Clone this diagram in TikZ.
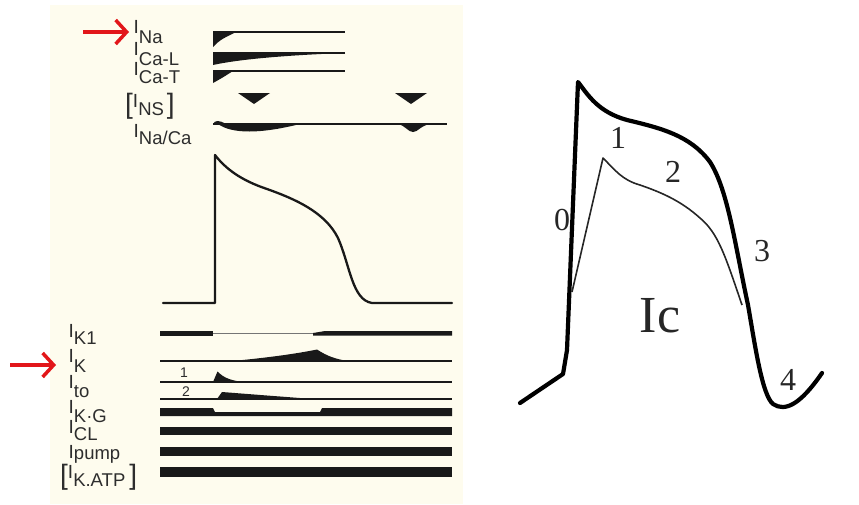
\documentclass[tikz,border=0pt]{standalone}
\usepackage{fontspec}
\setmainfont{Liberation Sans}
\newfontfamily\serifr{Liberation Serif}
\usetikzlibrary{arrows.meta}
\definecolor{cream}{RGB}{254,252,238}
\definecolor{labc}{RGB}{45,45,45}
\definecolor{trc}{RGB}{25,25,25}
\definecolor{arrred}{RGB}{226,22,26}
\newcommand\ionlab[2]{\fontsize{19}{19}\selectfont I\raisebox{-#1pt}{\fontsize{18.5}{18.5}\selectfont #2}}
\newcommand\bigbrk[1]{\raisebox{-6pt}{\fontsize{28}{28}\selectfont #1}}
\begin{document}
\begin{tikzpicture}[x=1pt,y=-1pt,
  lab/.style={anchor=base west, inner sep=0pt, text=labc},
  trace/.style={draw=trc, line width=2pt},
  blob/.style={fill=trc},
  redarrow/.style={draw=arrred, line width=3.5pt, -{Straight Barb[length=11pt,width=24pt,line width=3.5pt]}},
  apline/.style={draw=trc, line width=2.3pt, line join=round, line cap=round},
  ecgthick/.style={draw=black, line width=4.2pt, line join=round, line cap=round},
  ecgthin/.style={draw=black!85, line width=1.6pt, line join=round},
  phase/.style={inner sep=0pt, font=\serifr\fontsize{32}{32}\selectfont, text=black!85},
  small/.style={inner sep=0pt, font=\fontsize{14}{14}\selectfont, text=labc}]
\useasboundingbox (0,0) rectangle (859,504);
\fill[cream] (50,5) rectangle (463,504);

% ---------- labels upper ----------
\node[lab] (lNa)   at (133.5,33)  {\ionlab{10}{Na}};
\node[lab] (lCaL)  at (133.5,55)  {\ionlab{10}{Ca-L}};
\node[lab] (lCaT)  at (133.5,75)  {\ionlab{8}{Ca-T}};
\node[lab] (lNS)   at (125,107)   {\bigbrk{[}\ionlab{8}{NS}\hspace{3pt}\bigbrk{]}};
\node[lab] (lNaCa) at (133.5,137) {\ionlab{7}{Na/Ca}};
% ---------- labels lower ----------
\node[lab] (lK1)  at (68.5,337) {\ionlab{7}{K1}};
\node[lab] (lK)   at (68.5,362) {\ionlab{10}{K}};
\node[lab] (lto)  at (68.5,388) {\ionlab{9}{to}};
\node[lab] (lKG)  at (68.5,413) {\ionlab{9}{K·G}};
\node[lab] (lCL)  at (68.5,433) {\ionlab{7}{CL}};
\node[lab] (lpump) at (68.5,458.5) {\ionlab{1}{pump}};
\node[lab] (lKATP) at (60,478) {\bigbrk{[}\ionlab{8}{K.ATP}\hspace{4pt}\bigbrk{]}};

% ---------- red arrows ----------
\coordinate (a1) at (83,32);
\coordinate (a1e) at (129,32);
\coordinate (a2) at (10,365);
\coordinate (a2e) at (56,365);
\draw[redarrow] (a1) -- (a1e);
\draw[redarrow] (a2) -- (a2e);

% ---------- I_Na ----------
\draw[trace] (213,32) -- (345,32);
\fill[blob] (213,31) -- (213,47) .. controls (220,40) .. (236,32) -- cycle;
% ---------- I_Ca-L ----------
\draw[trace] (213,53) -- (345,53);
\fill[blob] (213,52) -- (213,65) .. controls (240,59) and (290,55) .. (345,53) -- cycle;
% ---------- I_Ca-T ----------
\draw[trace] (213,71) -- (345,71);
\fill[blob] (213,70) -- (213,83) .. controls (222,78) .. (233,71) -- cycle;
% ---------- I_NS ----------
\fill[blob] (238,93) -- (270,93) -- (254,104) -- cycle;
\fill[blob] (395,93) -- (427,93) -- (411,104) -- cycle;
% ---------- I_Na/Ca ----------
\draw[trace] (213,124) -- (447,124);
\fill[blob] (213,124) .. controls (215,120) and (219,120) .. (226,124) -- cycle;
\fill[blob] (218,124) .. controls (232,134) and (260,134) .. (300,124) -- cycle;
\fill[blob] (398,124) .. controls (406,126) and (408,132) .. (413,132) .. controls (418,132) and (420,126) .. (430,124) -- cycle;

% ---------- action potential ----------
\draw[apline] (163,303) -- (215,303) -- (215,155)
  .. controls (225,168) and (240,180) .. (267,189)
  .. controls (295,199) and (325,212) .. (338,238)
  .. controls (350,265) and (352,300) .. (372,303)
  -- (452,303);

% ---------- I_K1 ----------
\fill[blob] (160,331) rectangle (213,335.5);
\draw[draw=trc!60, line width=0.8pt] (213,333.5) -- (313,333.5);
\fill[blob] (313,333) -- (325,331) -- (452,331) -- (452,335.5) -- (313,335.5) -- (313,334) -- cycle;
% ---------- I_K ----------
\draw[trace] (160,361) -- (452,361);
\fill[blob] (232,361) .. controls (265,358) and (295,354) .. (317,349.5)
  .. controls (327,356) and (335,359) .. (348,361) -- cycle;
% ---------- I_to ----------
\draw[trace] (160,382) -- (452,382);
\fill[blob] (213,382) -- (217.5,371.5) .. controls (224,378) and (230,380) .. (242,382) -- cycle;
\node[small] (n1) at (184,373) {1};
\draw[trace] (160,399) -- (452,399);
\fill[blob] (217,399) -- (222,392) -- (267,395.5) -- (313,399) -- cycle;
\node[small] (n2) at (186,392) {2};
% ---------- I_K.G ----------
\fill[blob] (160,408) -- (213,408) -- (215,412) -- (320,412) -- (322,408) -- (452,408) -- (452,416) -- (160,416) -- cycle;
% ---------- I_CL, pump, K.ATP ----------
\fill[blob] (160,427) rectangle (452,435);
\fill[blob] (160,447) rectangle (452,456);
\fill[blob] (160,467) rectangle (452,477);

% ---------- right panel ----------
\draw[ecgthick] (520,403) -- (563,374) -- (567,350) -- (578,82)
  .. controls (588,95) and (598,112) .. (627,120)
  .. controls (660,128) and (690,135) .. (710,162)
  .. controls (728,190) and (735,245) .. (748,305)
  .. controls (755,345) and (762,395) .. (773,404)
  .. controls (785,412) and (800,405) .. (822,373);
\draw[ecgthin] (572,292) -- (603,158)
  .. controls (615,170) and (622,180) .. (640,185)
  .. controls (660,192) and (680,200) .. (700,218)
  .. controls (718,233) and (725,255) .. (742,305);
\node[phase] (p0) at (562,220) {0};
\node[phase] (p1) at (618,138) {1};
\node[phase] (p2) at (673,172) {2};
\node[phase] (p3) at (762,251) {3};
\node[phase] (p4) at (788,380) {4};
\node[inner sep=0pt, font=\serifr\fontsize{52}{52}\selectfont, text=black!85] (ic) at (660,316) {Ic};
\end{tikzpicture}
\end{document}
